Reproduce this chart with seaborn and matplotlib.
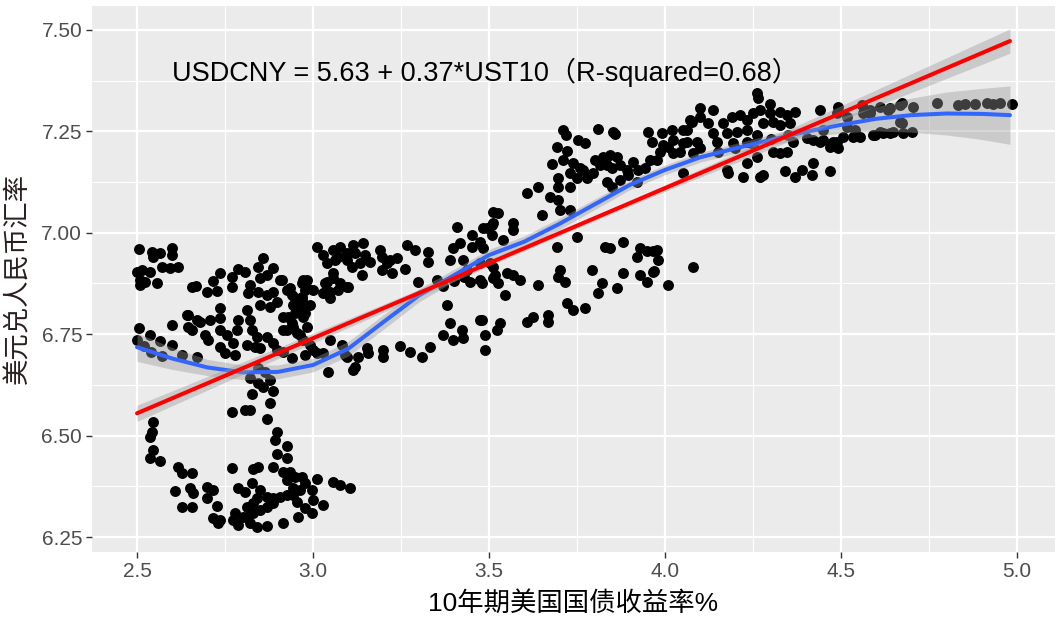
import numpy as np
import pandas as pd
import matplotlib
matplotlib.use("Agg")
import matplotlib.pyplot as plt
import seaborn as sns

sns.set_theme(style="white")
plt.rcParams['font.family'] = ['Liberation Sans', 'Noto Sans CJK SC', 'DejaVu Sans']

# scatter points (UST10 %, USDCNY)
pts_top_left = [
    (2.506, 6.960), (2.543, 6.953), (2.565, 6.950), (2.599, 6.962), (2.599, 6.945), (2.545, 6.940),
    (2.500, 6.903), (2.514, 6.908), (2.537, 6.903), (2.571, 6.916), (2.594, 6.913), (2.616, 6.916),
    (2.509, 6.884), (2.523, 6.879), (2.557, 6.876), (2.509, 6.871),
]
pts_low_band = [
    (2.506, 6.765), (2.537, 6.748), (2.565, 6.733), (2.599, 6.723), (2.628, 6.699), (2.670, 6.694),
    (2.645, 6.797), (2.679, 6.780), (2.656, 6.760), (2.693, 6.748), (2.702, 6.736), (2.707, 6.785),
    (2.736, 6.815), (2.736, 6.790), (2.736, 6.760), (2.756, 6.748), (2.736, 6.718), (2.750, 6.704),
    (2.778, 6.699), (2.773, 6.728), (2.784, 6.760), (2.787, 6.785), (2.813, 6.810), (2.821, 6.785),
    (2.827, 6.760), (2.841, 6.743), (2.813, 6.723), (2.835, 6.718), (2.869, 6.743), (2.849, 6.716),
    (2.886, 6.728), (2.898, 6.711), (2.926, 6.760), (2.940, 6.778), (2.915, 6.792), (2.949, 6.802),
    (2.963, 6.817), (2.977, 6.802), (2.983, 6.768), (2.955, 6.753), (2.972, 6.736), (2.991, 6.723),
    (2.940, 6.691), (2.977, 6.699), (3.000, 6.711), (3.048, 6.736), (3.028, 6.704), (3.082, 6.723),
    (3.097, 6.694), (2.642, 6.797), (2.599, 6.773), (2.670, 6.785), (2.645, 6.768),
    (2.500, 6.735), (2.520, 6.720), (2.540, 6.705), (2.570, 6.695), (2.864, 6.657), (2.878, 6.637),
    (2.844, 6.667),
]
pts_mid_left = [
    (2.656, 6.866), (2.668, 6.869), (2.699, 6.854), (2.716, 6.881), (2.727, 6.857), (2.736, 6.901),
    (2.770, 6.891), (2.787, 6.911), (2.807, 6.903), (2.770, 6.866), (2.821, 6.871), (2.815, 6.852),
    (2.844, 6.916), (2.858, 6.938), (2.849, 6.889), (2.869, 6.896), (2.886, 6.913), (2.906, 6.884),
    (2.844, 6.854), (2.869, 6.847), (2.886, 6.854), (2.849, 6.822), (2.878, 6.817), (2.898, 6.829),
    (2.926, 6.859), (2.940, 6.847), (2.943, 6.822), (2.969, 6.834), (2.977, 6.859), (2.983, 6.884),
    (2.969, 6.876), (3.000, 6.859), (3.011, 6.965), (3.028, 6.945), (3.057, 6.958), (3.077, 6.965),
    (3.071, 6.940), (3.040, 6.926), (3.057, 6.901), (3.040, 6.879), (3.034, 6.854), (3.048, 6.839),
    (3.071, 6.859), (3.077, 6.876), (3.097, 6.866), (3.097, 6.933),
    (2.935, 6.864), (2.949, 6.839), (2.972, 6.884), (2.983, 6.864), (2.969, 6.842), (2.991, 6.822),
    (2.957, 6.815), (2.929, 6.792), (2.972, 6.792), (2.943, 6.768), (2.963, 6.748), (2.915, 6.760),
    (2.912, 6.884), (3.034, 6.876), (3.057, 6.889), (3.048, 6.854), (3.099, 6.866), (3.028, 6.852),
]
pts_bottom_left = [
    (2.545, 6.534), (2.543, 6.509), (2.537, 6.497), (2.545, 6.464), (2.537, 6.445), (2.565, 6.437),
    (2.616, 6.423), (2.628, 6.408), (2.656, 6.408), (2.608, 6.363), (2.651, 6.371), (2.659, 6.358),
    (2.628, 6.324), (2.656, 6.324), (2.699, 6.373), (2.716, 6.366), (2.699, 6.346), (2.727, 6.326),
    (2.716, 6.297), (2.730, 6.285), (2.736, 6.292), (2.770, 6.420), (2.787, 6.371), (2.807, 6.361),
    (2.827, 6.383), (2.830, 6.418), (2.844, 6.423), (2.770, 6.558), (2.807, 6.563), (2.821, 6.563),
    (2.827, 6.603), (2.869, 6.541), (2.878, 6.580), (2.886, 6.610), (2.858, 6.620), (2.844, 6.630),
    (2.821, 6.642), (2.898, 6.509), (2.892, 6.489), (2.926, 6.474), (2.898, 6.455), (2.926, 6.445),
    (2.886, 6.423), (2.915, 6.410), (2.935, 6.410), (2.926, 6.391), (2.949, 6.398), (2.969, 6.398),
    (2.977, 6.383), (2.943, 6.371), (2.963, 6.366), (2.926, 6.354), (2.906, 6.349), (2.886, 6.346),
    (2.869, 6.349), (2.849, 6.366), (2.841, 6.346), (2.830, 6.334), (2.813, 6.324), (2.869, 6.324),
    (2.886, 6.334), (2.849, 6.317), (2.830, 6.309), (2.801, 6.299), (2.778, 6.309), (2.773, 6.292),
    (2.787, 6.280), (2.821, 6.285), (2.841, 6.275), (2.869, 6.277), (2.813, 6.299), (2.915, 6.285),
    (2.957, 6.299), (2.977, 6.322), (2.997, 6.309), (3.000, 6.341), (2.997, 6.366), (3.011, 6.393),
    (3.028, 6.329), (3.057, 6.386), (3.077, 6.378), (3.105, 6.371), (2.955, 6.336), (2.943, 6.354),
    (3.043, 6.657), (3.114, 6.662),
]
pts_middle = [
    (3.063, 6.933), (3.097, 6.950), (3.114, 6.970), (3.142, 6.975), (3.119, 6.950), (3.148, 6.945),
    (3.111, 6.916), (3.134, 6.926), (3.162, 6.928), (3.190, 6.958), (3.196, 6.940), (3.210, 6.926),
    (3.196, 6.908), (3.219, 6.933), (3.239, 6.938), (3.224, 6.901), (3.139, 6.896), (3.267, 6.970),
    (3.290, 6.958), (3.327, 6.953), (3.327, 6.928), (3.261, 6.911), (3.298, 6.879),
    (2.915, 6.706), (3.011, 6.704), (3.091, 6.699), (3.119, 6.669), (3.128, 6.694), (3.153, 6.716),
    (3.156, 6.704), (3.199, 6.711), (3.199, 6.694), (3.247, 6.721), (3.276, 6.706), (3.310, 6.694),
    (3.332, 6.718), (3.352, 6.884), (3.381, 6.822), (3.389, 6.778), (3.369, 6.748), (3.398, 6.736),
    (3.423, 6.760), (3.426, 6.741), (3.474, 6.785), (3.489, 6.748), (3.489, 6.711), (3.523, 6.760),
    (3.409, 7.014), (3.452, 6.995), (3.483, 7.012), (3.511, 7.024), (3.509, 6.995), (3.398, 6.963),
    (3.418, 6.975), (3.452, 6.965), (3.474, 6.977), (3.483, 6.963), (3.389, 6.933), (3.426, 6.933),
    (3.474, 6.926), (3.503, 6.926), (3.474, 6.884), (3.511, 6.889), (3.446, 6.879), (3.438, 6.908),
    (3.370, 6.870), (3.400, 6.880), (3.430, 6.890),
]
pts_upper_mid = [
    (3.810, 7.256), (3.852, 7.249), (3.858, 7.244), (3.710, 7.253), (3.719, 7.241), (3.753, 7.229),
    (3.773, 7.221), (3.693, 7.212), (3.722, 7.202), (3.952, 7.249), (3.991, 7.246), (4.020, 7.253),
    (4.051, 7.253), (4.077, 7.273), (3.963, 7.224), (3.994, 7.216), (4.023, 7.229), (4.063, 7.224),
    (3.679, 7.170), (3.710, 7.179), (3.739, 7.172), (3.759, 7.160), (3.730, 7.147), (3.696, 7.135),
    (3.696, 7.113), (3.673, 7.088), (3.696, 7.081), (3.730, 7.113), (3.750, 7.135), (3.767, 7.155),
    (3.778, 7.135), (3.795, 7.147), (3.801, 7.179), (3.824, 7.187), (3.844, 7.192), (3.864, 7.187),
    (3.815, 7.167), (3.835, 7.167), (3.849, 7.160), (3.872, 7.167), (3.892, 7.155), (3.909, 7.175),
    (3.923, 7.155), (3.943, 7.160), (3.957, 7.179), (3.977, 7.179), (3.986, 7.199), (4.009, 7.212),
    (4.023, 7.197), (4.043, 7.199), (4.051, 7.221), (4.080, 7.197), (3.835, 7.125), (3.849, 7.113),
    (3.872, 7.130), (3.895, 7.142), (3.920, 7.125), (4.051, 7.147), (3.608, 7.098), (3.639, 7.113),
    (3.651, 7.044), (3.730, 7.056), (3.702, 7.056), (3.511, 7.051), (3.526, 7.049), (3.494, 7.012),
    (3.509, 7.019), (3.568, 7.024), (3.568, 7.007), (3.540, 6.982),
]
pts_mid_right = [
    (3.750, 6.990), (3.693, 6.965), (3.830, 6.965), (3.881, 6.977), (3.929, 6.963), (3.977, 6.958),
    (3.920, 6.940), (3.980, 6.933), (3.966, 6.903), (3.929, 6.896), (3.949, 6.879), (3.881, 6.901),
    (4.080, 6.916), (4.009, 6.871), (3.864, 6.864), (3.821, 6.876), (3.810, 6.852), (3.793, 6.908),
    (3.702, 6.908), (3.696, 6.891), (3.716, 6.879), (3.639, 6.871), (3.568, 6.896), (3.588, 6.884),
    (3.551, 6.901), (3.526, 6.876), (3.517, 6.896), (3.511, 6.916), (3.545, 6.847), (3.480, 6.876),
    (3.722, 6.827), (3.739, 6.810), (3.773, 6.815), (3.668, 6.797), (3.668, 6.780), (3.625, 6.792),
    (3.608, 6.780), (3.531, 6.778), (3.480, 6.785), (3.844, 6.963), (3.949, 6.955), (3.966, 6.955),
    (3.969, 6.906),
]
pts_top_right = [
    (4.261, 7.345), (4.264, 7.332), (4.099, 7.308), (4.136, 7.303), (4.298, 7.318), (4.063, 7.253),
    (4.071, 7.278), (4.099, 7.286), (4.122, 7.271), (4.165, 7.271), (4.190, 7.286), (4.213, 7.290),
    (4.233, 7.278), (4.250, 7.295), (4.270, 7.303), (4.298, 7.295), (4.327, 7.298), (4.347, 7.290),
    (4.369, 7.298), (4.278, 7.271), (4.307, 7.273), (4.327, 7.266), (4.355, 7.271), (4.176, 7.246),
    (4.205, 7.249), (4.233, 7.253), (4.261, 7.241), (4.136, 7.246), (4.148, 7.224), (4.091, 7.224),
    (4.193, 7.221), (4.233, 7.224), (4.307, 7.199), (4.327, 7.197), (4.347, 7.199), (4.261, 7.187),
    (4.233, 7.172), (4.176, 7.155), (4.179, 7.147), (4.222, 7.138), (4.270, 7.138), (4.278, 7.142),
    (4.341, 7.152), (4.369, 7.138), (4.389, 7.155), (4.418, 7.142), (4.420, 7.172), (4.469, 7.152),
    (4.403, 7.234), (4.440, 7.224), (4.489, 7.224), (4.469, 7.212), (4.534, 7.236), (4.591, 7.241),
    (4.449, 7.253), (4.517, 7.286), (4.563, 7.295), (4.489, 7.295), (4.491, 7.310), (4.440, 7.303),
    (4.364, 7.224), (4.420, 7.229), (4.449, 7.229), (4.477, 7.224), (4.491, 7.209), (4.506, 7.236),
    (4.540, 7.253), (4.554, 7.236), (4.597, 7.241), (4.619, 7.246), (4.648, 7.249), (4.676, 7.246),
    (4.702, 7.249), (4.611, 7.310), (4.639, 7.308), (4.668, 7.315), (4.560, 7.315), (4.582, 7.303),
    (4.668, 7.273), (4.517, 7.261), (4.100, 7.210), (4.150, 7.200), (4.200, 7.210), (4.250, 7.220),
    (4.300, 7.230), (4.350, 7.240),
]
pts_far_right = [
    (4.773, 7.320), (4.832, 7.315), (4.852, 7.318), (4.881, 7.318), (4.915, 7.320), (4.932, 7.318),
    (4.952, 7.320), (4.986, 7.318), (4.673, 7.320), (4.705, 7.310), (4.673, 7.271), (4.634, 7.303),
    (4.582, 7.295), (4.611, 7.249), (4.639, 7.246),
]

# loess smooth (blue), with the half width of its band
smooth_x = [2.5, 2.6, 2.7, 2.8, 2.9, 3.0, 3.1, 3.2, 3.3, 3.4, 3.5, 3.6, 3.7,
            3.8, 3.9, 4.0, 4.1, 4.2, 4.3, 4.4, 4.5, 4.6, 4.7, 4.8, 4.9, 4.98]
smooth_y = [6.718, 6.690, 6.668, 6.656, 6.657, 6.674, 6.714, 6.780, 6.845, 6.895, 6.945, 6.978, 7.022,
            7.070, 7.118, 7.155, 7.186, 7.208, 7.229, 7.249, 7.266, 7.281, 7.290, 7.294, 7.293, 7.290]
smooth_se = [0.035, 0.027, 0.020, 0.018, 0.017, 0.017, 0.018, 0.018, 0.016, 0.015, 0.014, 0.014, 0.014,
             0.013, 0.012, 0.012, 0.012, 0.012, 0.013, 0.015, 0.020, 0.030, 0.042, 0.053, 0.063, 0.072]

# linear fit (red): USDCNY = 5.63 + 0.37*UST10
lm_intercept = 5.63
lm_slope = 0.37
lm_x = [2.5, 3.0, 3.5, 3.75, 4.0, 4.5, 4.98]
lm_se = [0.020, 0.012, 0.007, 0.006, 0.008, 0.018, 0.030]

xticks = [2.5, 3.0, 3.5, 4.0, 4.5, 5.0]
yticks = [6.25, 6.50, 6.75, 7.00, 7.25, 7.50]

all_pts = (pts_top_left + pts_low_band + pts_mid_left + pts_bottom_left + pts_middle
           + pts_upper_mid + pts_mid_right + pts_top_right + pts_far_right)
df = pd.DataFrame(all_pts, columns=['ust10', 'usdcny'])

fig = plt.figure(figsize=(10.62, 6.22), dpi=100)
ax = fig.add_axes([0.0866, 0.1125, 0.9068, 0.8785])
ax.set_facecolor('#EBEBEB')

# grid like ggplot2
for v in [2.75, 3.25, 3.75, 4.25, 4.75]:
    ax.axvline(v, color='white', lw=0.8, zorder=0)
for v in [6.375, 6.625, 6.875, 7.125, 7.375]:
    ax.axhline(v, color='white', lw=0.8, zorder=0)
for v in xticks:
    ax.axvline(v, color='white', lw=1.6, zorder=0)
for v in yticks:
    ax.axhline(v, color='white', lw=1.6, zorder=0)

sns.scatterplot(data=df, x='ust10', y='usdcny', color='black', s=62, linewidth=0, ax=ax, zorder=2)

# blue smooth
sm_lo = [m - s for m, s in zip(smooth_y, smooth_se)]
sm_hi = [m + s for m, s in zip(smooth_y, smooth_se)]
ax.fill_between(smooth_x, sm_lo, sm_hi, color='#999999', alpha=0.4, lw=0, zorder=3)
sns.lineplot(x=smooth_x, y=smooth_y, color='#3366FF', lw=2.9, ax=ax, zorder=4)

# red linear fit
lm_y = [lm_intercept + lm_slope * v for v in lm_x]
lm_lo = [m - s for m, s in zip(lm_y, lm_se)]
lm_hi = [m + s for m, s in zip(lm_y, lm_se)]
ax.fill_between(lm_x, lm_lo, lm_hi, color='#999999', alpha=0.4, lw=0, zorder=5)
sns.lineplot(x=lm_x, y=lm_y, color='red', lw=2.9, ax=ax, zorder=6)

ax.text(3.489, 7.396, 'USDCNY = 5.63 + 0.37*UST10（R-squared=0.68）', ha='center', va='center',
        fontsize=19.5, color='black', zorder=7)

ax.set_xlim(2.372, 5.108)
ax.set_ylim(6.213, 7.560)
ax.set_xticks(xticks)
ax.set_xticklabels(['2.5', '3.0', '3.5', '4.0', '4.5', '5.0'])
ax.set_yticks(yticks)
ax.set_yticklabels(['6.25', '6.50', '6.75', '7.00', '7.25', '7.50'])
ax.tick_params(axis='both', length=4, width=1, color='#333333', labelcolor='#4D4D4D',
               labelsize=15, pad=3, direction='out', bottom=True, left=True)
for sp in ax.spines.values():
    sp.set_visible(False)

ax.set_xlabel('10年期美国国债收益率%', fontsize=19, color='black')
ax.set_ylabel('美元兑人民币汇率', fontsize=19, color='#2a1f1f')
ax.xaxis.set_label_coords(0.5, -0.072)
ax.yaxis.set_label_coords(-0.064, 0.5)

fig.savefig('out.png', dpi=100)
